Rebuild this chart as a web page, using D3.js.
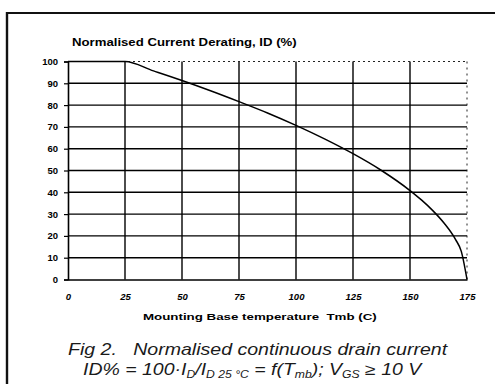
<!DOCTYPE html>
<html>
<head>
<meta charset="utf-8">
<script src="https://cdn.jsdelivr.net/npm/d3@7"></script>
<style>
  html, body { margin: 0; padding: 0; background: #fff; }
  svg { display: block; }
</style>
</head>
<body>
<svg id="chart" width="495" height="384"></svg>
<script>
// Mounting-base temperature (°C) and normalised drain current ID (%)
const temperature = [0, 12.5, 25, 37.5, 50, 62.5, 75, 87.5, 100, 112.5, 125, 137.5, 150, 155, 160, 165, 170, 172.5, 175];
const currentPct  = [100, 100, 100, 95.7, 91.3, 86.6, 81.6, 76.4, 70.7, 64.5, 57.7, 50, 40.8, 36.5, 31.6, 25.8, 18.3, 12.9, 0];

const xTicks = [0, 25, 50, 75, 100, 125, 150, 175];
const yTicks = [0, 10, 20, 30, 40, 50, 60, 70, 80, 90, 100];

const titleText = "Normalised Current Derating, ID (%)";
const xAxisTitle = "Mounting Base temperature  Tmb (C)";

const svg = d3.select("#chart");
const W = 495, H = 384;
const plot = { left: 68, right: 467, top: 61.5, bottom: 279.5 };

const x = d3.scaleLinear().domain([0, 175]).range([plot.left, plot.right]);
const y = d3.scaleLinear().domain([0, 100]).range([plot.bottom, plot.top]);

const font = "'Liberation Sans', Arial, sans-serif";

// outer figure frame (top and left rules)
svg.append("line").attr("x1", 6).attr("x2", W).attr("y1", 13).attr("y2", 13)
  .attr("stroke", "#111").attr("stroke-width", 2.2);
svg.append("line").attr("x1", 7).attr("x2", 7).attr("y1", 12).attr("y2", H)
  .attr("stroke", "#111").attr("stroke-width", 2.4);

const g = svg.append("g");

// horizontal grid lines (10 .. 90)
g.selectAll("line.hgrid").data(yTicks.filter(d => d > 0 && d < 100)).join("line")
  .attr("class", "hgrid")
  .attr("x1", x(0)).attr("x2", x(175))
  .attr("y1", d => y(d)).attr("y2", d => y(d))
  .attr("stroke", "#000").attr("stroke-width", 1.4);

// vertical grid lines (25 .. 150)
g.selectAll("line.vgrid").data(xTicks.filter(d => d > 0 && d < 175)).join("line")
  .attr("class", "vgrid")
  .attr("x1", d => x(d)).attr("x2", d => x(d))
  .attr("y1", y(100)).attr("y2", y(0))
  .attr("stroke", "#000").attr("stroke-width", 1.4);

// dotted top and right borders
g.append("line").attr("x1", x(0)).attr("x2", x(175)).attr("y1", y(100)).attr("y2", y(100))
  .attr("stroke", "#222").attr("stroke-width", 1).attr("stroke-dasharray", "2,3");
g.append("line").attr("x1", x(175)).attr("x2", x(175)).attr("y1", y(100)).attr("y2", y(0))
  .attr("stroke", "#222").attr("stroke-width", 1).attr("stroke-dasharray", "2,4");

// left and bottom axes
const yAxis = d3.axisLeft(y).tickValues(yTicks).tickSize(4).tickPadding(6);
const gy = svg.append("g").attr("transform", `translate(${plot.left},0)`).call(yAxis);
gy.select(".domain").attr("stroke", "#000").attr("stroke-width", 1.6);
gy.selectAll(".tick line").attr("stroke", "#000").attr("stroke-width", 1.2);
gy.selectAll("text").attr("font-family", font).attr("font-weight", "bold")
  .attr("font-size", 9.5).attr("fill", "#000");

const xAxis = d3.axisBottom(x).tickValues(xTicks).tickSize(0).tickPadding(14);
const gx = svg.append("g").attr("transform", `translate(0,${plot.bottom})`).call(xAxis);
gx.select(".domain").attr("stroke", "#000").attr("stroke-width", 1.6);
gx.selectAll("text").attr("font-family", font).attr("font-weight", "bold")
  .attr("font-style", "italic").attr("font-size", 9.5).attr("fill", "#000");

// derating curve
const line = d3.line().x((d, i) => x(temperature[i])).y(d => y(d)).curve(d3.curveMonotoneX);
g.append("path").datum(currentPct).attr("d", line)
  .attr("fill", "none").attr("stroke", "#000").attr("stroke-width", 1.5);

// fit a text element to a given width by scaling it horizontally
function fitWidth(sel, x0, width) {
  const w = sel.node().getBBox().width;
  const s = width / w;
  sel.attr("transform", `translate(${x0},0) scale(${s},1) translate(${-x0},0)`);
}

// chart title
const title = svg.append("text").attr("x", 72).attr("y", 46.5)
  .attr("font-family", font).attr("font-weight", "bold").attr("font-size", 10)
  .attr("fill", "#000").text(titleText);
fitWidth(title, 72, 225);

// x-axis title
const xt = svg.append("text").attr("x", 143).attr("y", 320.5)
  .attr("font-family", font).attr("font-weight", "bold").attr("font-size", 9.5)
  .attr("fill", "#000").attr("xml:space", "preserve").text(xAxisTitle);
fitWidth(xt, 143, 234);

// figure caption
const cap1 = svg.append("text").attr("x", 68).attr("y", 355.5)
  .attr("font-family", font).attr("font-style", "italic").attr("font-size", 16)
  .attr("fill", "#1a1a1a").attr("xml:space", "preserve")
  .text("Fig 2.   Normalised continuous drain current");
fitWidth(cap1, 68, 380);

const cap2 = svg.append("text").attr("x", 83).attr("y", 375)
  .attr("font-family", font).attr("font-style", "italic").attr("font-size", 16)
  .attr("fill", "#1a1a1a");
const parts = [
  ["ID% = 100·I", 0], ["D", 1], ["/I", 0], ["D 25 °C", 1], [" = f(T", 0], ["mb", 1],
  ["); V", 0], ["GS", 1], [" ≥ 10 V", 0]
];
parts.forEach(([t, sub], i) => {
  const ts = cap2.append("tspan").text(t);
  if (sub) ts.attr("font-size", 10).attr("dy", 3);
  else if (i > 0 && parts[i - 1][1]) ts.attr("dy", -3);
});
fitWidth(cap2, 83, 340);
</script>
</body>
</html>
